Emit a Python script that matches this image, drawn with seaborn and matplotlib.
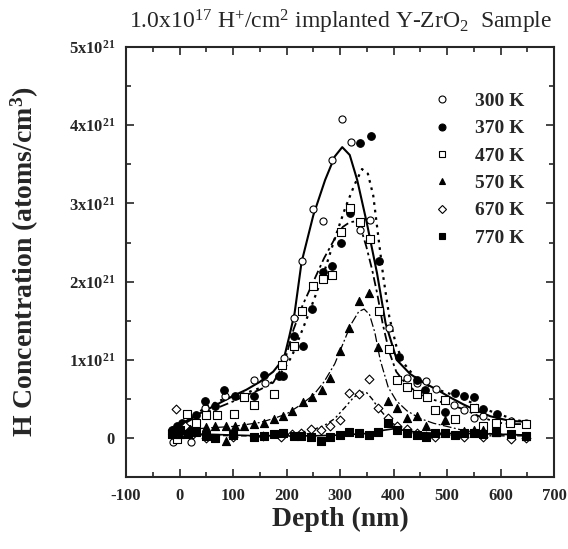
import numpy as np
import pandas as pd
import matplotlib
matplotlib.use("Agg")
import matplotlib.pyplot as plt
from matplotlib.lines import Line2D
from matplotlib.ticker import MultipleLocator, FuncFormatter
import seaborn as sns

sns.set_style("ticks")
plt.rcParams['font.family'] = ['Liberation Serif', 'DejaVu Serif']
plt.rcParams['mathtext.default'] = 'regular'
plt.rcParams['axes.unicode_minus'] = False

# measured points (depth in nm, concentration in 1e21 atoms/cm3)
x300 = [-13, -5, 5, 21, 30, 48, 85, 139, 160, 195, 214, 229, 250, 268, 285, 304, 320, 337, 355,
        391, 425, 444, 461, 480, 512, 531, 550, 567, 620, 648]
y300 = [-0.05, 0.12, 0.18, -0.05, 0.20, 0.39, 0.54, 0.75, 0.71, 1.03, 1.54, 2.27, 2.93, 2.77, 3.56, 4.08,
        3.79, 2.66, 2.79, 1.41, 0.77, 0.71, 0.73, 0.63, 0.43, 0.36, 0.26, 0.28, 0.22, 0.19]

x370 = [-15, -5, 5, 15, 31, 48, 67, 83, 104, 139, 157, 185, 193, 213, 231, 248, 268, 285, 302, 318,
        338, 357, 373, 410, 444, 459, 497, 514, 532, 550, 567, 593]
y370 = [0.10, 0.15, 0.20, 0.12, 0.29, 0.47, 0.41, 0.62, 0.54, 0.54, 0.81, 0.79, 0.79, 1.30, 1.18, 1.65,
        2.12, 2.20, 2.50, 2.88, 3.77, 3.86, 2.26, 1.04, 0.75, 0.62, 0.34, 0.58, 0.54, 0.53, 0.37, 0.31]

x470 = [-5, 14, 30, 50, 69, 102, 121, 139, 176, 192, 213, 229, 249, 268, 284, 302, 319, 338, 355,
        372, 391, 407, 425, 444, 463, 478, 497, 514, 550, 567, 592, 618, 648]
y470 = [-0.01, 0.31, 0.20, 0.30, 0.29, 0.31, 0.53, 0.42, 0.56, 0.94, 1.18, 1.62, 1.94, 2.03, 2.08, 2.64,
        2.94, 2.76, 2.54, 1.62, 1.14, 0.74, 0.65, 0.56, 0.53, 0.36, 0.49, 0.25, 0.39, 0.16, 0.20, 0.19, 0.18]

x570 = [-15, 0, 20, 50, 67, 86, 86, 104, 121, 140, 157, 176, 193, 210, 230, 248, 266, 282, 300, 317,
        336, 354, 371, 389, 407, 425, 443, 461, 497, 531, 550, 567, 592, 620, 648]
y570 = [0.10, 0.05, 0.12, 0.14, 0.16, 0.16, -0.03, 0.16, 0.16, 0.18, 0.20, 0.25, 0.28, 0.35, 0.46, 0.52,
        0.62, 0.77, 1.11, 1.41, 1.75, 1.86, 1.16, 0.47, 0.39, 0.26, 0.28, 0.16, 0.23, 0.09, 0.10, 0.10,
        0.08, 0.05, 0.03]

x670 = [-6, 10, 25, 50, 100, 156, 190, 210, 227, 246, 264, 282, 299, 317, 336, 354, 371, 389, 407,
        425, 443, 461, 478, 531, 567, 620, 648]
y670 = [0.37, 0.15, 0.05, 0.00, 0.02, 0.03, 0.02, 0.05, 0.07, 0.12, 0.11, 0.15, 0.23, 0.58, 0.57, 0.76,
        0.39, 0.26, 0.15, 0.12, 0.07, 0.03, 0.01, 0.02, 0.01, -0.01, 0.00]

x770 = [-15, 0, 15, 30, 50, 67, 100, 139, 157, 176, 193, 213, 227, 246, 264, 282, 299, 317, 336, 354,
        371, 389, 406, 425, 443, 461, 478, 497, 514, 531, 550, 567, 592, 620, 648]
y770 = [0.05, 0.10, 0.05, 0.08, 0.03, 0.00, 0.04, 0.01, 0.03, 0.05, 0.06, 0.03, 0.03, 0.02, -0.03, 0.01,
        0.04, 0.08, 0.06, 0.04, 0.08, 0.19, 0.11, 0.06, 0.04, 0.02, 0.06, 0.07, 0.04, 0.06, 0.07, 0.05,
        0.08, 0.05, 0.03]

# fitted curves
fx300 = [-20, 0, 25, 50, 75, 100, 125, 150, 175, 195, 205, 215, 228, 250, 272, 290, 304, 318, 332, 350,
         369, 385, 406, 431, 456, 481, 506, 531, 556, 581, 618, 650]
fy300 = [0.10, 0.17, 0.27, 0.36, 0.45, 0.54, 0.62, 0.72, 0.85, 1.02, 1.30, 1.60, 2.25, 2.85, 3.30, 3.60,
         3.72, 3.62, 3.30, 2.75, 2.11, 1.47, 1.00, 0.82, 0.71, 0.62, 0.52, 0.43, 0.35, 0.28, 0.22, 0.21]

fx370 = [-20, 0, 25, 50, 75, 100, 125, 150, 175, 195, 210, 220, 235, 250, 270, 290, 310, 327, 341, 352,
         362, 371, 381, 392, 405, 420, 440, 470, 500, 525, 550, 575, 600, 625, 650]
fy370 = [0.08, 0.15, 0.28, 0.40, 0.48, 0.54, 0.58, 0.64, 0.72, 0.88, 1.05, 1.22, 1.48, 1.75, 2.12, 2.55,
         2.95, 3.24, 3.44, 3.38, 3.10, 2.60, 2.05, 1.55, 1.18, 0.95, 0.78, 0.65, 0.58, 0.52, 0.44, 0.36,
         0.30, 0.24, 0.20]

fx470 = [-20, 0, 25, 50, 75, 100, 125, 150, 175, 195, 213, 230, 250, 270, 290, 305, 318, 327, 338, 349,
         360, 369, 380, 392, 405, 420, 444, 470, 500, 531, 560, 593, 620, 650]
fy470 = [0.08, 0.15, 0.25, 0.33, 0.40, 0.47, 0.55, 0.62, 0.71, 0.95, 1.39, 1.70, 2.00, 2.30, 2.55, 2.70,
         2.76, 2.77, 2.70, 2.45, 2.15, 1.86, 1.45, 1.10, 0.85, 0.72, 0.58, 0.50, 0.44, 0.37, 0.28, 0.20,
         0.18, 0.18]

fx570 = [-20, 0, 50, 100, 150, 175, 200, 225, 250, 270, 290, 305, 320, 335, 345, 355, 365, 375, 390,
         405, 425, 450, 475, 500, 530, 560, 600, 650]
fy570 = [0.08, 0.10, 0.13, 0.15, 0.20, 0.25, 0.31, 0.42, 0.55, 0.72, 0.95, 1.20, 1.45, 1.62, 1.65, 1.58,
         1.35, 1.00, 0.65, 0.48, 0.35, 0.25, 0.19, 0.15, 0.10, 0.07, 0.05, 0.04]

fx670 = [-20, 0, 100, 150, 200, 230, 250, 270, 290, 310, 325, 340, 350, 360, 370, 385, 400, 425, 450,
         500, 550, 600, 650]
fy670 = [0.04, 0.05, 0.03, 0.03, 0.05, 0.08, 0.11, 0.16, 0.25, 0.40, 0.52, 0.59, 0.58, 0.50, 0.40, 0.28,
         0.18, 0.10, 0.06, 0.04, 0.03, 0.03, 0.03]

fx770 = [-20, 0, 50, 100, 150, 200, 250, 300, 350, 380, 400, 420, 450, 500, 550, 600, 650]
fy770 = [0.06, 0.06, 0.05, 0.04, 0.03, 0.03, 0.03, 0.04, 0.06, 0.10, 0.12, 0.10, 0.07, 0.06, 0.06, 0.05,
         0.04]

labels = ['300 K', '370 K', '470 K', '570 K', '670 K', '770 K']
markers = ['o', 'o', 's', '^', 'D', 's']
filled = [False, True, False, True, False, True]
msizes = [26, 30, 28, 34, 20, 26]
points = [(x300, y300), (x370, y370), (x470, y470), (x570, y570), (x670, y670), (x770, y770)]
fits = [(fx300, fy300), (fx370, fy370), (fx470, fy470), (fx570, fy570), (fx670, fy670), (fx770, fy770)]
styles = [('-', 1.5), ((0, (1.2, 2.2)), 1.6), ((0, (5, 2, 1.5, 2)), 1.3), ((0, (7, 2, 1.5, 2)), 0.9),
          ((0, (4, 2, 1.5, 2, 1.5, 2)), 1.0), ('-', 1.2)]

fig = plt.figure(figsize=(5.68, 5.49), dpi=100)
ax = fig.add_axes([0.222, 0.1306, 0.7535, 0.7838])

for (px, py), (fx, fy), m, f, s, (ls, lw) in zip(points, fits, markers, filled, msizes, styles):
    sns.lineplot(x=fx, y=fy, ax=ax, color='black', linestyle=ls, linewidth=lw,
                 estimator=None, sort=False, zorder=2)
    sns.scatterplot(x=px, y=py, ax=ax, marker=m, s=s,
                    color='black' if f else 'white', edgecolor='black', linewidth=0.8, zorder=3)

ax.set_xlim(-100, 700)
ax.set_ylim(-0.5, 5)
ax.xaxis.set_major_locator(MultipleLocator(100))
ax.xaxis.set_minor_locator(MultipleLocator(50))
ax.yaxis.set_major_locator(MultipleLocator(1))
ax.yaxis.set_minor_locator(MultipleLocator(0.5))
ax.yaxis.set_major_formatter(FuncFormatter(lambda v, p: '0' if abs(v) < 1e-9 else '%dx10$^{21}$' % round(v)))
ax.tick_params(which='both', direction='in', top=True, right=True, width=1.2)
ax.tick_params(which='major', length=6, labelsize=12, pad=8)
ax.tick_params(which='minor', length=3.5)
for lab in ax.get_xticklabels() + ax.get_yticklabels():
    lab.set_fontweight('bold')
for sp in ax.spines.values():
    sp.set_linewidth(1.5)

ax.set_xlabel('Depth (nm)', fontsize=20, fontweight='bold', labelpad=2)
ax.set_ylabel('H Concentration (atoms/cm$^{3}$)', fontsize=20, fontweight='bold', labelpad=20)
ax.set_title('1.0x10$^{17}$ H$^{+}$/cm$^{2}$ implanted Y-ZrO$_{2}$  Sample', fontsize=17, pad=13)

handles = [Line2D([], [], linestyle='none', marker=m, markersize=5 if m != 'D' else 4,
                  markerfacecolor='black' if f else 'white', markeredgecolor='black', markeredgewidth=0.8)
           for m, f in zip(markers, filled)]
leg = ax.legend(handles, labels, loc='upper left', bbox_to_anchor=(0.675, 0.935), frameon=False,
                handlelength=1.0, handletextpad=1.2, labelspacing=0.5,
                prop={'family': 'Liberation Serif', 'weight': 'bold', 'size': 14})

fig.savefig('out.png', dpi=100)
